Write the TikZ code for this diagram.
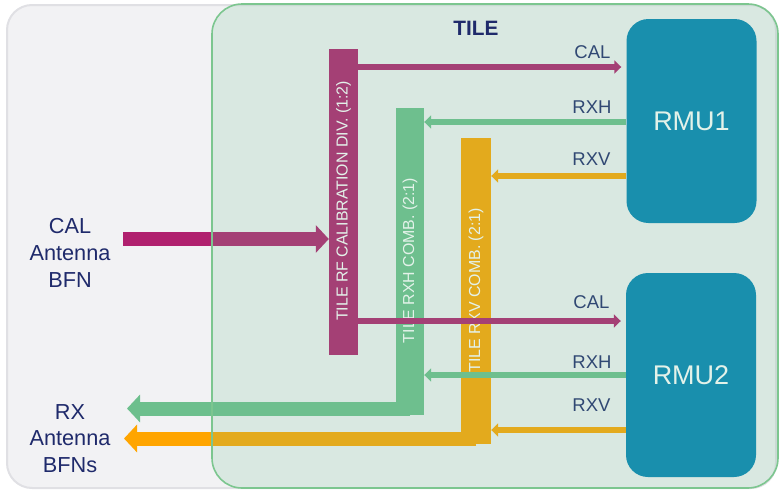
\documentclass[tikz,border=0pt]{standalone}
\usepackage{fontspec}
\setmainfont{Liberation Sans}
\usetikzlibrary{arrows.meta, positioning}
\definecolor{calcol}{HTML}{B0206E}
\definecolor{rxhcol}{RGB}{109,191,141}
\definecolor{rxvcol}{HTML}{FFA500}
\definecolor{rmucol}{RGB}{3,131,180}
\definecolor{tilecol}{RGB}{117,192,149}
\definecolor{tileline}{HTML}{7CC68F}
\definecolor{navyc}{HTML}{1F2A6B}
\definecolor{bgc}{HTML}{F2F2F4}
\definecolor{bgline}{HTML}{E0E0E4}

\begin{document}
\begin{tikzpicture}[x=1pt, y=-1pt,
  bar/.style={minimum width=29pt, minimum height=306pt, inner sep=0pt},
  barlabel/.style={rotate=90, text=white, font=\fontsize{15.9}{18}\selectfont},
  rmu/.style={fill=rmucol, rounded corners=22pt, minimum width=130pt,
    minimum height=204pt, text=white, font=\fontsize{27}{30}\selectfont},
  sig/.style={anchor=base east, text=navyc, font=\fontsize{18.5}{20}\selectfont},
  side/.style={align=center, text=navyc, font=\fontsize{21.7}{26.7}\selectfont},
  link/.style={line width=6pt, -{Triangle[length=7pt, width=13pt]}},
  bus/.style={line width=14pt, -{Triangle[length=13pt, width=27pt]}}]
  \useasboundingbox (0,0) rectangle (780,490);
  % panel behind the tile
  \draw[fill=bgc, draw=bgline, line width=2pt, rounded corners=25pt] (7,5) rectangle (776,488);
  % side texts
  \node[side] (calbfn) at (70,252.8) {CAL\\Antenna\\BFN};
  \node[side] (rxbfn) at (70,438.5) {RX\\Antenna\\BFNs};
  % combiner / divider bars
  \node[bar, fill=calcol] (caldiv) at (343.5,202) {};
  \node[bar, fill=rxhcol, minimum width=28pt, minimum height=307pt] (rxhcomb) at (410,261.5) {};
  \node[bar, fill=rxvcol, minimum width=30pt] (rxvcomb) at (476,291) {};
  % wide busses to and from the antenna BFNs
  \coordinate (calin) at (123,239);
  \coordinate (rxhout) at (127,408.5);
  \coordinate (rxvout) at (124,438.5);
  \draw[bus, calcol] (calin) -- (caldiv.west |- calin);
  \draw[bus, rxhcol] (rxhcomb.center |- rxhout) -- (rxhout);
  \draw[bus, rxvcol] (rxvcomb.center |- rxvout) -- (rxvout);
  % redraw the bars over the busses
  \fill[rxhcol] (rxhcomb.south west) rectangle (rxhcomb.north east);
  \fill[rxvcol] (rxvcomb.south west) rectangle (rxvcomb.north east);
  \node[barlabel] (caldivtxt) at (343.5,201) {TILE RF CALIBRATION DIV. (1:2)};
  \node[barlabel] (rxhtxt) at (410,260.5) {TILE RXH COMB. (2:1)};
  \node[barlabel] (rxvtxt) at (476,290.5) {TILE RXV COMB. (2:1)};
  % RMUs
  \node[rmu] (rmuone) at (691.5,121) {RMU1};
  \node[rmu] (rmutwo) at (691,375) {RMU2};
  % links RMU1
  \draw[link, calcol, shorten >=5pt] (caldiv.east |- 0,67) -- (rmuone.west |- 0,67);
  \draw[link, rxhcol] (rmuone.west |- 0,122) -- (rxhcomb.east |- 0,122);
  \draw[link, rxvcol] (rmuone.west |- 0,176) -- (rxvcomb.east |- 0,176);
  % links RMU2
  \draw[link, calcol, shorten >=5pt] (caldiv.east |- 0,321) -- (rmutwo.west |- 0,321);
  \draw[link, rxhcol] (rmutwo.west |- 0,375) -- (rxhcomb.east |- 0,375);
  \draw[link, rxvcol] (rmutwo.west |- 0,430) -- (rxvcomb.east |- 0,430);
  \node[sig] (calone) at (614,58) {CAL};
  \node[sig] (rxhone) at (615,113) {RXH};
  \node[sig] (rxvone) at (614,165) {RXV};
  \node[sig] (caltwo) at (613,308) {CAL};
  \node[sig] (rxhtwo) at (615,368) {RXH};
  \node[sig] (rxvtwo) at (614,411) {RXV};
  % tile
  \fill[tilecol, fill opacity=0.2, rounded corners=30pt] (212,4) rectangle (778,488);
  \draw[tileline, line width=1.6pt, rounded corners=30pt] (212,4) rectangle (778,488);
  \node[anchor=base, text=navyc, font=\fontsize{20.8}{24}\selectfont\bfseries] (tile) at (476,35) {TILE};
\end{tikzpicture}
\end{document}
